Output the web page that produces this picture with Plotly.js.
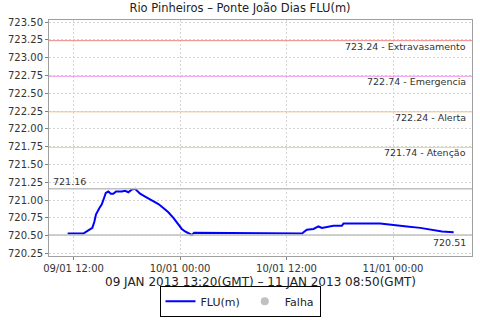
<!DOCTYPE html>
<html>
<head>
<meta charset="utf-8">
<script src="https://cdn.plot.ly/plotly-3.0.1.min.js"></script>
<style>html,body{margin:0;padding:0;background:#fff;}#chart{width:480px;height:320px;}</style>
</head>
<body>
<div id="chart"></div>
<script>
// Times are local (GMT-2) as shown on the axis ticks
const times = [
  '2013-01-09 11:20','2013-01-09 11:50','2013-01-09 12:30','2013-01-09 13:06','2013-01-09 13:40',
  '2013-01-09 14:07','2013-01-09 14:21','2013-01-09 14:32','2013-01-09 14:55','2013-01-09 15:11',
  '2013-01-09 15:28','2013-01-09 15:38','2013-01-09 15:55','2013-01-09 16:12','2013-01-09 16:29',
  '2013-01-09 16:47','2013-01-09 17:26','2013-01-09 17:48','2013-01-09 18:11','2013-01-09 18:34',
  '2013-01-09 18:56','2013-01-09 19:12','2013-01-09 19:30','2013-01-09 20:04','2013-01-09 20:49',
  '2013-01-09 21:34','2013-01-09 22:07','2013-01-09 22:41','2013-01-09 23:15','2013-01-09 23:49',
  '2013-01-10 00:12','2013-01-10 00:34','2013-01-10 00:57','2013-01-10 01:20','2013-01-10 01:35',
  '2013-01-10 02:16','2013-01-10 06:40','2013-01-10 06:46','2013-01-10 06:52','2013-01-10 11:28',
  '2013-01-10 11:35','2013-01-10 13:46','2013-01-10 13:55','2013-01-10 14:17','2013-01-10 15:02',
  '2013-01-10 15:36','2013-01-10 15:59','2013-01-10 16:33','2013-01-10 17:17','2013-01-10 18:14',
  '2013-01-10 18:25','2013-01-10 22:33','2013-01-11 00:03','2013-01-11 01:34','2013-01-11 03:04',
  '2013-01-11 04:23','2013-01-11 05:31','2013-01-11 06:50'
];
const levels = [
  720.53,720.53,720.53,720.53,720.575,
  720.61,720.70,720.80,720.89,720.94,
  721.04,721.10,721.12,721.09,721.09,
  721.12,721.12,721.13,721.11,721.15,
  721.16,721.12,721.09,721.05,721.00,
  720.945,720.89,720.83,720.75,720.655,
  720.595,720.56,720.54,720.51,720.54,
  720.54,720.54,720.53,720.54,720.54,
  720.53,720.53,720.55,720.585,720.595,
  720.63,720.61,720.62,720.64,720.64,
  720.67,720.67,720.655,720.63,720.61,
  720.585,720.56,720.55
];
const thresholdValues = [723.24, 722.74, 722.24, 721.74];
const thresholdNames = ['Extravasamento', 'Emergencia', 'Alerta', 'Atenção'];
const thresholdColors = ['#f08a8a', '#ee90ee', '#f5c08a', '#f2dc4a'];
const maxValue = 721.16;
const minValue = 720.51;
const seriesNames = ['FLU(m)', 'Falha'];
const titleText = 'Rio Pinheiros – Ponte João Dias FLU(m)';
const xTitleText = '09 JAN 2013 13:20(GMT) – 11 JAN 2013 08:50(GMT)';

const FONT = 'DejaVu Sans, sans-serif';
const shapes = [];
const annotations = [];
thresholdValues.forEach((v, i) => {
  shapes.push({type:'line', xref:'paper', x0:0, x1:1, yref:'y', y0:v, y1:v,
    line:{color:thresholdColors[i], width:1}});
  annotations.push({xref:'paper', x:0.99, xanchor:'right', yref:'y', y:v, yanchor:'top', yshift:2,
    text: v.toFixed(2) + ' - ' + thresholdNames[i], showarrow:false,
    font:{family:FONT, size:9.5, color:'#333'}});
});
[maxValue, minValue].forEach(v => {
  shapes.push({type:'line', xref:'paper', x0:0, x1:1, yref:'y', y0:v, y1:v,
    line:{color:'#c0c0c0', width:1.5}});
});
annotations.push({xref:'paper', x:0.005, xanchor:'left', yref:'y', y:maxValue, yanchor:'bottom', yshift:0,
  text: maxValue.toFixed(2), showarrow:false, font:{family:FONT, size:9.5, color:'#333'}});
annotations.push({xref:'paper', x:0.99, xanchor:'right', yref:'y', y:minValue, yanchor:'top', yshift:0,
  text: minValue.toFixed(2), showarrow:false, font:{family:FONT, size:9.5, color:'#333'}});
// x-axis caption (time span), placed under the tick labels
annotations.push({xref:'paper', x:0.5, xanchor:'center', yref:'paper', y:-0.11, yanchor:'middle',
  text: xTitleText, showarrow:false, font:{family:FONT, size:12, color:'#222'}});

const data = [
  {x: times, y: levels, type:'scatter', mode:'lines', name: seriesNames[0],
   line:{color:'#0000ff', width:2}},
  {x: [null], y: [null], type:'scatter', mode:'markers', name: seriesNames[1],
   marker:{color:'#c0c0c0', size:8}}
];

const layout = {
  width:480, height:320,
  margin:{l:49, r:8, t:20, b:64},
  paper_bgcolor:'#fff', plot_bgcolor:'#fff',
  font:{family:FONT, color:'#333'},
  title:{text:titleText, font:{family:FONT, size:11.5, color:'#222'},
    xref:'container', x:0.5, xanchor:'center', yref:'container', y:0.975, yanchor:'middle'},
  xaxis:{
    type:'date',
    range:['2013-01-09 09:14','2013-01-11 08:54'],
    tick0:'2013-01-09 00:00', dtick:12*3600*1000, tickformat:'%d/%m %H:%M',
    ticks:'outside', ticklen:3, tickcolor:'#808080',
    showline:true, linecolor:'#a0a0a0', linewidth:1, mirror:true,
    showgrid:true, gridcolor:'#d4d4d4', griddash:'2px,2px', gridwidth:1,
    zeroline:false,
    tickfont:{family:FONT, size:10, color:'#333'}
  },
  yaxis:{
    range:[720.215, 723.53],
    dtick:0.25, tick0:720, tickformat:'.2f',
    ticks:'outside', ticklen:3, tickcolor:'#808080',
    showline:true, linecolor:'#a0a0a0', linewidth:1, mirror:true,
    showgrid:true, gridcolor:'#d4d4d4', griddash:'2px,2px', gridwidth:1,
    zeroline:false,
    tickfont:{family:FONT, size:10, color:'#333'}
  },
  showlegend:true,
  legend:{orientation:'h', xref:'container', x:0.5, xanchor:'center', yref:'container', y:0.01, yanchor:'bottom',
    bordercolor:'#000', borderwidth:1, bgcolor:'#fff', itemwidth:30,
    font:{family:FONT, size:11, color:'#222'}},
  shapes: shapes,
  annotations: annotations
};

Plotly.newPlot('chart', data, layout, {staticPlot:true, displayModeBar:false});
</script>
</body>
</html>
